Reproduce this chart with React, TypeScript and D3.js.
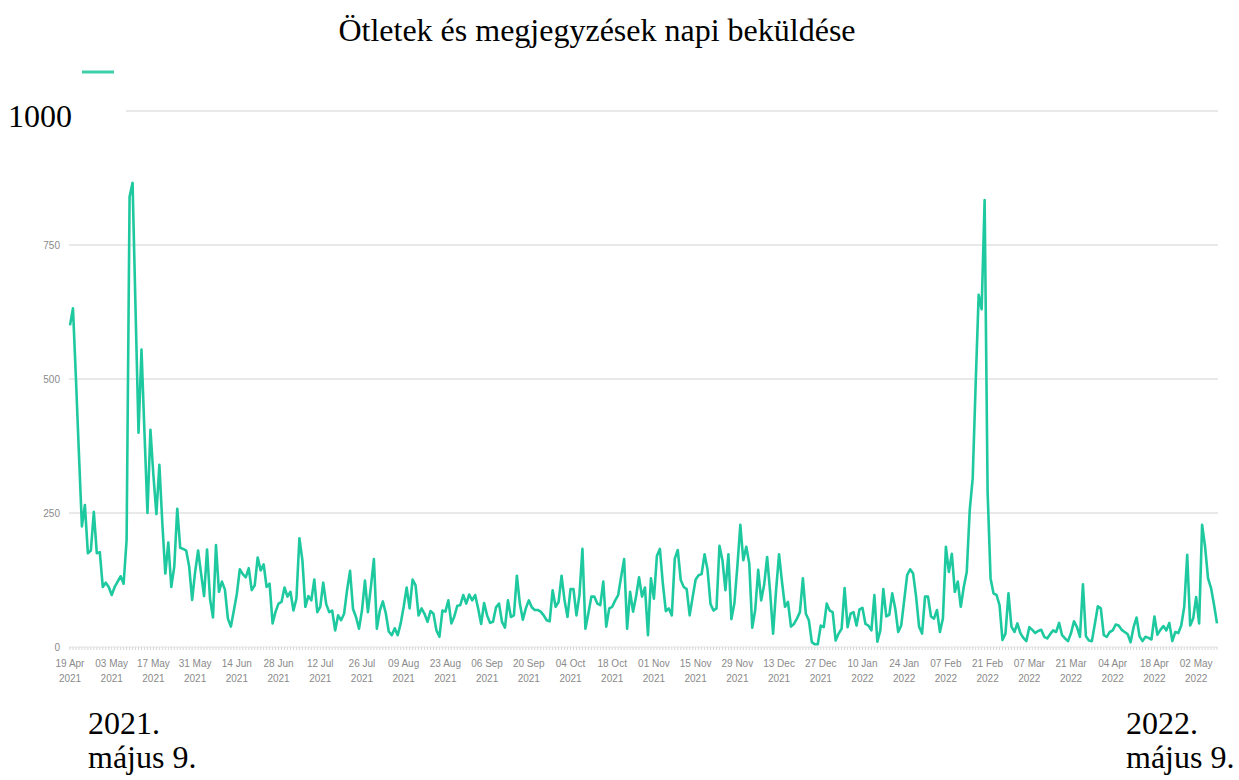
import React, { useEffect, useRef } from "react";
import * as d3 from "d3";

// daily submissions, one value per day, starting 19 Apr 2021
const fromApr19 = [
  600, 632, 500, 360, 225, 265, 175, 180, 252, 175, 177, 112, 120, 112, 97, 112, 122, 132, 118, 200,
  840, 866, 630, 400, 555, 400, 250, 405, 320, 248, 340, 230, 137, 195, 112, 150, 258, 185, 183, 180,
  150, 88, 140, 180, 137, 95, 182, 90, 55, 190, 103,
];
// from 09 Jun 2021
const fromJun09 = [
  122, 107, 53, 38, 68, 99, 145, 136, 130, 147, 106, 115, 167, 143, 154, 112, 118, 44, 66, 81,
  84, 111, 94, 103, 68, 90, 203, 162, 75, 95, 87, 126, 65, 75, 120, 80, 65, 68, 31, 59,
  50, 62, 106, 142, 71, 56, 34, 68, 124, 65, 112, 164, 34, 68,
];
// from 02 Aug 2021
const fromAug02 = [
  85, 63, 29, 22, 35, 22, 44, 75, 111, 72, 126, 115, 59, 72, 62, 47, 67, 62, 31, 19,
  68, 66, 87, 44, 57, 77, 78, 97, 81, 98, 87, 97, 72, 43, 82, 59, 45, 47, 74, 81,
  47, 36, 87, 56, 59, 133, 81, 51, 72, 87, 74, 69, 69,
];
// from 24 Sep 2021
const fromSep24 = [
  66, 59, 50, 48, 106, 75, 84, 133, 87, 56, 108, 108, 59, 97, 183, 34, 63, 94, 94, 81,
  78, 122, 38, 72, 75, 87, 97, 131, 164, 34, 103, 66, 94, 130, 94, 111, 22, 128, 90, 170,
  183, 118, 67, 72, 59, 165, 181, 125, 112, 108, 59, 93, 126, 134,
];
// from 17 Nov 2021
const fromNov17 = [
  136, 173, 144, 80, 68, 72, 189, 162, 106, 173, 52, 81, 150, 228, 162, 187, 156, 36, 69, 144,
  87, 116, 168, 103, 25, 106, 173, 121, 75, 84, 38, 43, 53, 65, 128, 62, 50, 9, 5, 5,
  40, 37, 81, 68, 65, 12, 25, 34, 110, 37, 62, 65, 40, 70,
];
// from 10 Jan 2022
const fromJan10 = [
  73, 43, 40, 31, 97, 10, 31, 108, 57, 60, 100, 72, 28, 40, 87, 134, 145, 137, 94, 38,
  25, 94, 94, 57, 53, 69, 28, 53, 187, 140, 174, 103, 122, 75, 112, 140, 255, 315, 492, 657,
  630, 834, 290, 128, 100, 97, 78, 13, 25, 100, 38, 28, 44, 26,
];
// from 05 Mar 2022 to 09 May 2022
const fromMar05 = [
  17, 11, 37, 32, 26, 30, 32, 19, 16, 24, 31, 28, 45, 22, 16, 11, 26, 48, 37, 19,
  117, 20, 12, 11, 43, 76, 72, 22, 19, 28, 31, 42, 40, 32, 28, 24, 9, 37, 55, 20,
  11, 19, 17, 14, 57, 23, 32, 39, 31, 45, 11, 28, 26, 40, 75, 172, 40, 53, 93, 44,
  228, 187, 128, 110, 79, 44,
];

const yTicks = [0, 250, 500, 750];
const title = "Ötletek és megjegyzések napi beküldése";
const startNote = ["2021.", "május 9."];
const endNote = ["2022.", "május 9."];

const start = new Date(Date.UTC(2021, 3, 19));
const firstTick = new Date(Date.UTC(2021, 3, 19));
const lastTick = new Date(Date.UTC(2022, 4, 2));

const App = () => {
  const ref = useRef<SVGSVGElement>(null);

  useEffect(() => {
    const values = [
      ...fromApr19,
      ...fromJun09,
      ...fromAug02,
      ...fromSep24,
      ...fromNov17,
      ...fromJan10,
      ...fromMar05,
    ];
    const data = values.map((v, i) => ({ date: d3.utcDay.offset(start, i), value: v }));
    const end = data[data.length - 1].date;

    const svg = d3.select(ref.current);
    svg.selectAll("*").remove();

    const x = d3.scaleUtc().domain([start, end]).range([70, 1217]);
    const y = d3.scaleLinear().domain([0, 1000]).range([647, 111]);

    const serif = "'Liberation Serif', 'Times New Roman', serif";
    const narrow = "'Liberation Sans Narrow', 'Liberation Sans', Arial, sans-serif";

    svg.append("rect").attr("width", 1239).attr("height", 780).attr("fill", "#fff");

    // grid
    svg
      .selectAll(".grid")
      .data(yTicks.filter((t) => t > 0))
      .enter()
      .append("line")
      .attr("x1", 69)
      .attr("x2", 1218)
      .attr("y1", (d) => y(d))
      .attr("y2", (d) => y(d))
      .attr("stroke", "#e2e2e2")
      .attr("stroke-width", 1.5);

    // top gridline starts right of the big "1000" label
    svg
      .append("line")
      .attr("x1", 126)
      .attr("x2", 1218)
      .attr("y1", y(1000))
      .attr("y2", y(1000))
      .attr("stroke", "#e2e2e2")
      .attr("stroke-width", 1.5);

    // baseline with daily ticks
    svg
      .append("line")
      .attr("x1", 69)
      .attr("x2", 1218)
      .attr("y1", y(0))
      .attr("y2", y(0))
      .attr("stroke", "#e4e4e4")
      .attr("stroke-width", 1);
    svg
      .selectAll(".dtick")
      .data(data)
      .enter()
      .append("line")
      .attr("x1", (d) => x(d.date))
      .attr("x2", (d) => x(d.date))
      .attr("y1", y(0))
      .attr("y2", y(0) + 3)
      .attr("stroke", "#d6d6d6")
      .attr("stroke-width", 1);

    // y labels
    svg
      .selectAll(".ylab")
      .data(yTicks)
      .enter()
      .append("text")
      .attr("x", 60)
      .attr("y", (d) => y(d) + 3.5)
      .attr("text-anchor", "end")
      .attr("font-family", narrow)
      .attr("font-size", 10)
      .attr("fill", "#8a8a8a")
      .text((d) => d);

    // x labels every two weeks
    const tickDates = d3
      .utcDays(firstTick, d3.utcDay.offset(lastTick, 1))
      .filter((_, i) => i % 14 === 0);
    const xt = svg
      .selectAll(".xlab")
      .data(tickDates)
      .enter()
      .append("text")
      .attr("text-anchor", "middle")
      .attr("font-family", narrow)
      .attr("font-size", 10)
      .attr("fill", "#8a8a8a");
    xt.append("tspan")
      .attr("x", (d) => x(d))
      .attr("y", 667)
      .text((d) => d3.utcFormat("%d %b")(d));
    xt.append("tspan")
      .attr("x", (d) => x(d))
      .attr("y", 682)
      .text((d) => d3.utcFormat("%Y")(d));

    // series
    const line = d3
      .line<{ date: Date; value: number }>()
      .x((d) => x(d.date))
      .y((d) => y(d.value));
    svg
      .append("path")
      .datum(data)
      .attr("d", line)
      .attr("fill", "none")
      .attr("stroke", "#1fc9a0")
      .attr("stroke-width", 2.6)
      .attr("stroke-linejoin", "round");

    // legend swatch
    svg
      .append("line")
      .attr("x1", 82)
      .attr("x2", 114)
      .attr("y1", 72)
      .attr("y2", 72)
      .attr("stroke", "#3ccfaa")
      .attr("stroke-width", 3);

    // serif texts
    svg
      .append("text")
      .attr("x", 597)
      .attr("y", 41)
      .attr("text-anchor", "middle")
      .attr("font-family", serif)
      .attr("font-size", 32)
      .attr("fill", "#000")
      .text(title);

    svg
      .append("text")
      .attr("x", 8)
      .attr("y", 127)
      .attr("font-family", serif)
      .attr("font-size", 32)
      .attr("fill", "#000")
      .text("1000");

    const note = (lines: string[], xPos: number) => {
      svg
        .selectAll(null)
        .data(lines)
        .enter()
        .append("text")
        .attr("x", xPos)
        .attr("y", (_, i) => 734 + i * 34)
        .attr("font-family", serif)
        .attr("font-size", 32)
        .attr("fill", "#000")
        .text((d) => d);
    };
    note(startNote, 88);
    note(endNote, 1126);
  }, []);

  return (
    <svg
      ref={ref}
      width={1239}
      height={780}
      style={{ position: "absolute", left: 0, top: 0 }}
    ></svg>
  );
};

export default App;
